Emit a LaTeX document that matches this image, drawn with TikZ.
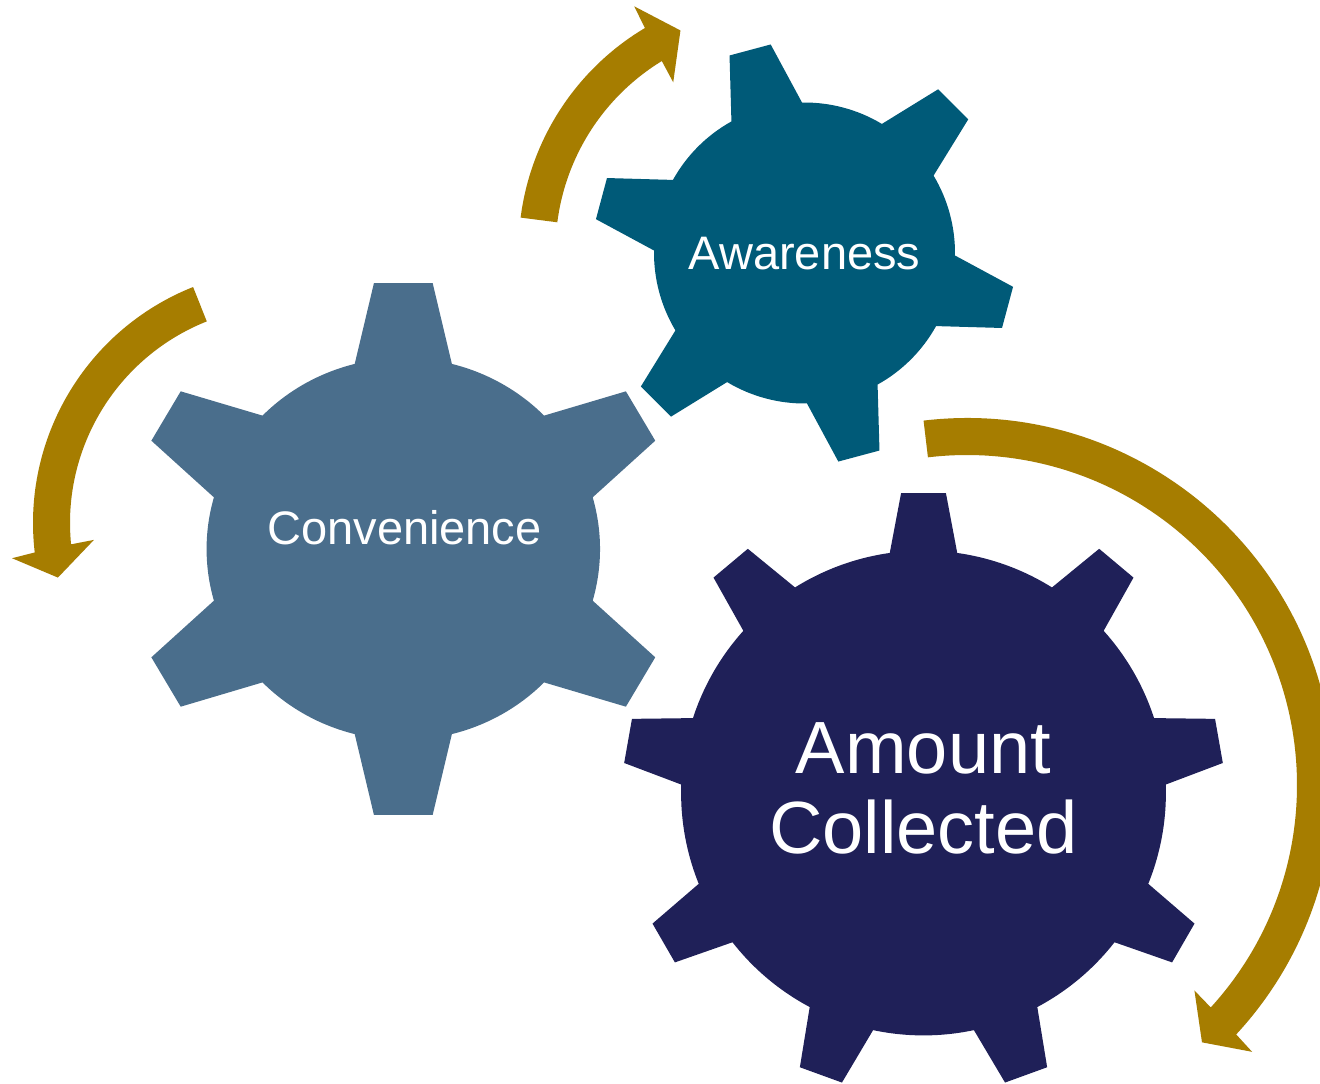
\documentclass[tikz,border=0pt]{standalone}
\usepackage{fontspec}
\setmainfont{Liberation Sans}
\definecolor{goldband}{HTML}{A67D00}
\definecolor{gearnavy}{HTML}{1F2058}
\definecolor{gearsteel}{HTML}{4A6E8C}
\definecolor{gearteal}{HTML}{005A78}
\tikzset{
  navygear/.style={fill=gearnavy},
  steelgear/.style={fill=gearsteel},
  tealgear/.style={fill=gearteal},
  arrowband/.style={fill=goldband},
  geartext/.style={text=white, inner sep=0pt},
}
% #1 style, #2 teeth, #3 first angle, #4 body radius, #5 tip radius, #6 tip half width, #7 base half angle
\newcommand{\gearfill}[7]{%
  \pgfmathsetmacro\gstep{360/#2}%
  \pgfmathtruncatemacro\glast{#2-1}%
  \pgfmathsetmacro\gtipa{atan(#6/#5)}%
  \pgfmathsetmacro\gtipr{veclen(#5,#6)}%
  \fill[#1] ({#3-#7}:#4)
    \foreach \k in {0,...,\glast}{
      -- ({#3+\k*\gstep-\gtipa}:\gtipr) -- ({#3+\k*\gstep+\gtipa}:\gtipr)
      -- ({#3+\k*\gstep+#7}:#4)
      arc[start angle={#3+\k*\gstep+#7}, end angle={#3+(\k+1)*\gstep-#7}, radius=#4]
    } -- cycle;
}
% #1 cx, #2 cy, #3 mid radius, #4 half width, #5 tail angle, #6 head base angle,
% #7 head half width, #8 tip angle, #9 tilt of the head base (outer wing angle minus base angle)
\newcommand{\arcarrow}[9]{%
  \pgfmathsetmacro\aout{#6+#9*#4/#7}%
  \pgfmathsetmacro\ain{#6-#9*#4/#7}%
  \begin{scope}[shift={(#1,#2)}]
    \fill[arrowband] (#5:{#3+#4}) arc[start angle=#5, end angle=\aout, radius={#3+#4}]
      -- ({#6+#9}:{#3+#7}) -- (#8:#3) -- ({#6-#9}:{#3-#7}) -- (\ain:{#3-#4})
      arc[start angle=\ain, end angle=#5, radius={#3-#4}] -- cycle;
  \end{scope}}
\begin{document}
\begin{tikzpicture}[x=1pt,y=1pt]
  \fill[white] (0,0) rectangle (1320,-1084);
  \clip (0,0) rectangle (1320,-1084);
  % gears
  \begin{scope}[shift={(923.5,-793)}]
    \gearfill{navygear}{9}{90}{242.4}{300}{22.4}{8}
  \end{scope}
  \begin{scope}[shift={(403.3,-549)}, xscale=1.03]
    \gearfill{steelgear}{6}{90}{191}{266}{28.5}{14.3}
  \end{scope}
  \begin{scope}[shift={(804.5,-253)}]
    \gearfill{tealgear}{6}{105}{150.5}{210.2}{21.3}{14.05}
  \end{scope}
  % arrows
  \arcarrow{777.5}{-250.5}{240.5}{18.5}{172.7}{121.1}{42.6}{113.8}{-0.7}
  \arcarrow{287}{-523}{235.5}{18.5}{111.7}{186.15}{41.7}{193.4}{1.15}
  \arcarrow{967}{-785}{348.5}{18.5}{96.8}{-42.6}{42}{-47.6}{-0.5}
  % labels
  \node[geartext, font=\fontsize{47}{56}\selectfont, anchor=base] (awareness) at (804.5,-269.3) {Awareness};
  \node[geartext, font=\fontsize{47}{56}\selectfont, anchor=base] (convenience) at (404.5,-544) {Convenience};
  \node[geartext, font=\fontsize{74}{80}\selectfont, align=center, anchor=center] (amount) at (923.5,-788.5) {Amount\\Collected};
\end{tikzpicture}
\end{document}
